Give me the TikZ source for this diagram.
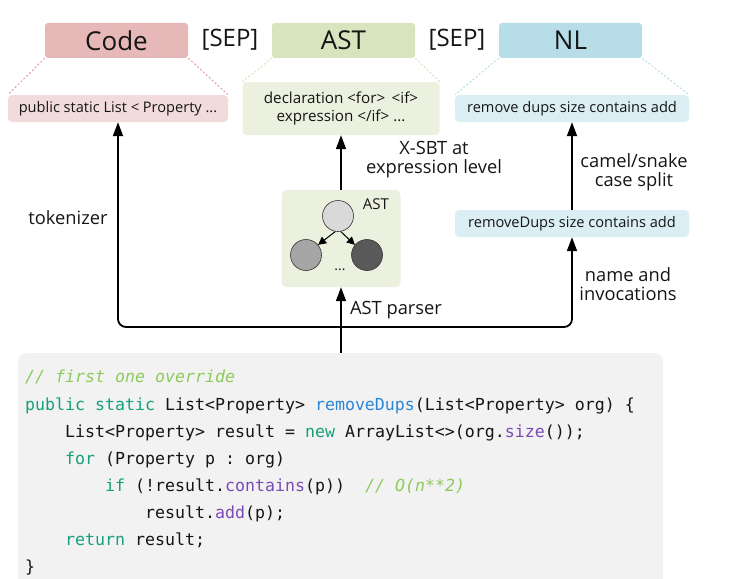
\documentclass[tikz,border=0pt]{standalone}
\usepackage{fontspec}
\setmainfont{Open Sans}
\setmonofont{DejaVu Sans Mono}
\usetikzlibrary{arrows.meta}
\definecolor{codeT}{HTML}{E6B8B7}
\definecolor{codeS}{HTML}{F2DCDB}
\definecolor{astT}{HTML}{D7E4BD}
\definecolor{astS}{HTML}{EBF1DE}
\definecolor{nlT}{HTML}{B7DDE8}
\definecolor{nlS}{HTML}{DBEEF3}
\definecolor{blockbg}{HTML}{F2F2F2}
\definecolor{kw}{HTML}{16A07A}
\definecolor{cm}{HTML}{8CCB5A}
\definecolor{fn}{HTML}{2B86D6}
\definecolor{pu}{HTML}{7B4AB5}
\definecolor{txt}{HTML}{151515}
\tikzset{
  title/.style={rounded corners=3pt, minimum width=143pt, minimum height=35pt, inner sep=0pt, font=\fontsize{26}{30}\selectfont, text=txt},
  sep/.style={font=\fontsize{24}{28}\selectfont, text=txt},
  sub/.style={rounded corners=4pt, inner sep=0pt, font=\fontsize{14.6}{18}\selectfont, text=txt, align=center},
  link/.style={dashed, dash pattern=on 2pt off 2pt, line width=1pt},
  flow/.style={line width=1.8pt, rounded corners=8pt, -{Triangle[length=14pt,width=10pt]}},
  lbl/.style={font=\fontsize{18.3}{22}\selectfont, text=txt, align=center},
  cl/.style={anchor=base west, inner sep=0pt, font=\fontsize{16.6}{20}\selectfont\ttfamily, text=txt},
  circ/.style={circle, draw=black!80, line width=0.6pt, minimum size=31pt, inner sep=0pt},
  mini/.style={line width=1pt, -{Triangle[length=8pt,width=8pt]}},
}
\begin{document}
\begin{tikzpicture}[x=1pt,y=-1pt]
\useasboundingbox (0,0) rectangle (738,578);
\clip (0,0) rectangle (738,578);

% titles
\node[title, fill=codeT] (codeT) at (116.5,40.5) {Code};
\node[sep] (sep1) at (230,40) {[SEP]};
\node[title, fill=astT] (astT) at (343.5,40.5) {AST};
\node[sep] (sep2) at (457,40) {[SEP]};
\node[title, fill=nlT] (nlT) at (570.5,40.5) {NL};

% sub boxes
\node[sub, fill=codeS, minimum width=220pt, minimum height=27pt] (codeS) at (118,108.5) {public static List < Property ...};
\node[sub, fill=astS, minimum width=197pt, minimum height=53pt, font=\fontsize{15.2}{18}\selectfont] (astS) at (341,108.5) {declaration <for> \,<if>\\expression </if> ...};
\node[sub, fill=nlS, minimum width=234pt, minimum height=27pt] (nlS) at (572,108.5) {remove dups size contains add};
\node[sub, fill=nlS, minimum width=234pt, minimum height=27pt] (nlD) at (572,223.5) {removeDups size contains add};

% dotted links
\draw[link, codeT!85!red] (codeT.south west) -- (codeS.north west);
\draw[link, codeT!85!red] (codeT.south east) -- (codeS.north east);
\draw[link, astT] (astT.south west) -- (astS.north west);
\draw[link, astT] (astT.south east) -- (astS.north east);
\draw[link, nlT] (nlT.south west) -- (nlS.north west);
\draw[link, nlT] (nlT.south east) -- (nlS.north east);

% AST mini box
\node[rounded corners=5pt, fill=astS, minimum width=119pt, minimum height=97pt, inner sep=0pt] (astM) at (341,238.5) {};
\node[circ, fill=black!15] (c0) at (338,216) {};
\node[circ, fill=black!35] (c1) at (306,255) {};
\node[circ, fill=black!65] (c2) at (367,255) {};
\draw[mini] (c0.-100) -- (c1.40);
\draw[mini] (c0.-80) -- (c2.140);
\node[font=\fontsize{15}{17}\selectfont, text=txt] (astL) at (376,204) {AST};
\node[font=\fontsize{14}{16}\selectfont, text=txt] (dots) at (340,270) {...};

% code block
\node[rounded corners=8pt, fill=blockbg, minimum width=645pt, minimum height=250pt, inner sep=0pt, anchor=north west] (block) at (18,353) {};

% flows
\coordinate (split) at (341,327);
\draw[flow] (block.north -| split) -- (astM.south);
\draw[flow] (split) -| (codeS.south);
\draw[flow] (split) -| (nlD.south);
\draw[flow] (nlD.north) -- (nlS.south);
\draw[flow] (astM.north) -- (astS.south);

% labels
\node[lbl] (tok) at (68,218) {tokenizer};
\node[lbl] (parser) at (396,310) {AST parser};
\node[lbl] (xsbt) at (434,160) {X-SBT at\\[-3pt]expression level};
\node[lbl] (camel) at (634,172) {camel/snake\\[-3pt]case split};
\node[lbl] (name) at (628,284) {name and\\[-3pt]invocations};

% code lines
\node[cl, text=cm] (l1) at (25,382) {\itshape // first one override};
\node[cl] (l2) at (25,410) {\textcolor{kw}{public static} List<Property> \textcolor{fn}{removeDups}(List<Property> org) \{};
\node[cl] (l3) at (65,437) {List<Property> result = \textcolor{kw}{new} ArrayList<>(org.\textcolor{pu}{size}());};
\node[cl] (l4) at (65,464) {\textcolor{kw}{for} (Property p : org)};
\node[cl] (l5) at (105,491) {\textcolor{kw}{if} (!result.\textcolor{pu}{contains}(p))};
\node[cl, text=cm] (l5c) at (365,491) {\itshape // O(n**2)};
\node[cl] (l6) at (145,518) {result.\textcolor{pu}{add}(p);};
\node[cl] (l7) at (65,545) {\textcolor{kw}{return} result;};
\node[cl] (l8) at (25,572) {\}};
\end{tikzpicture}
\end{document}
